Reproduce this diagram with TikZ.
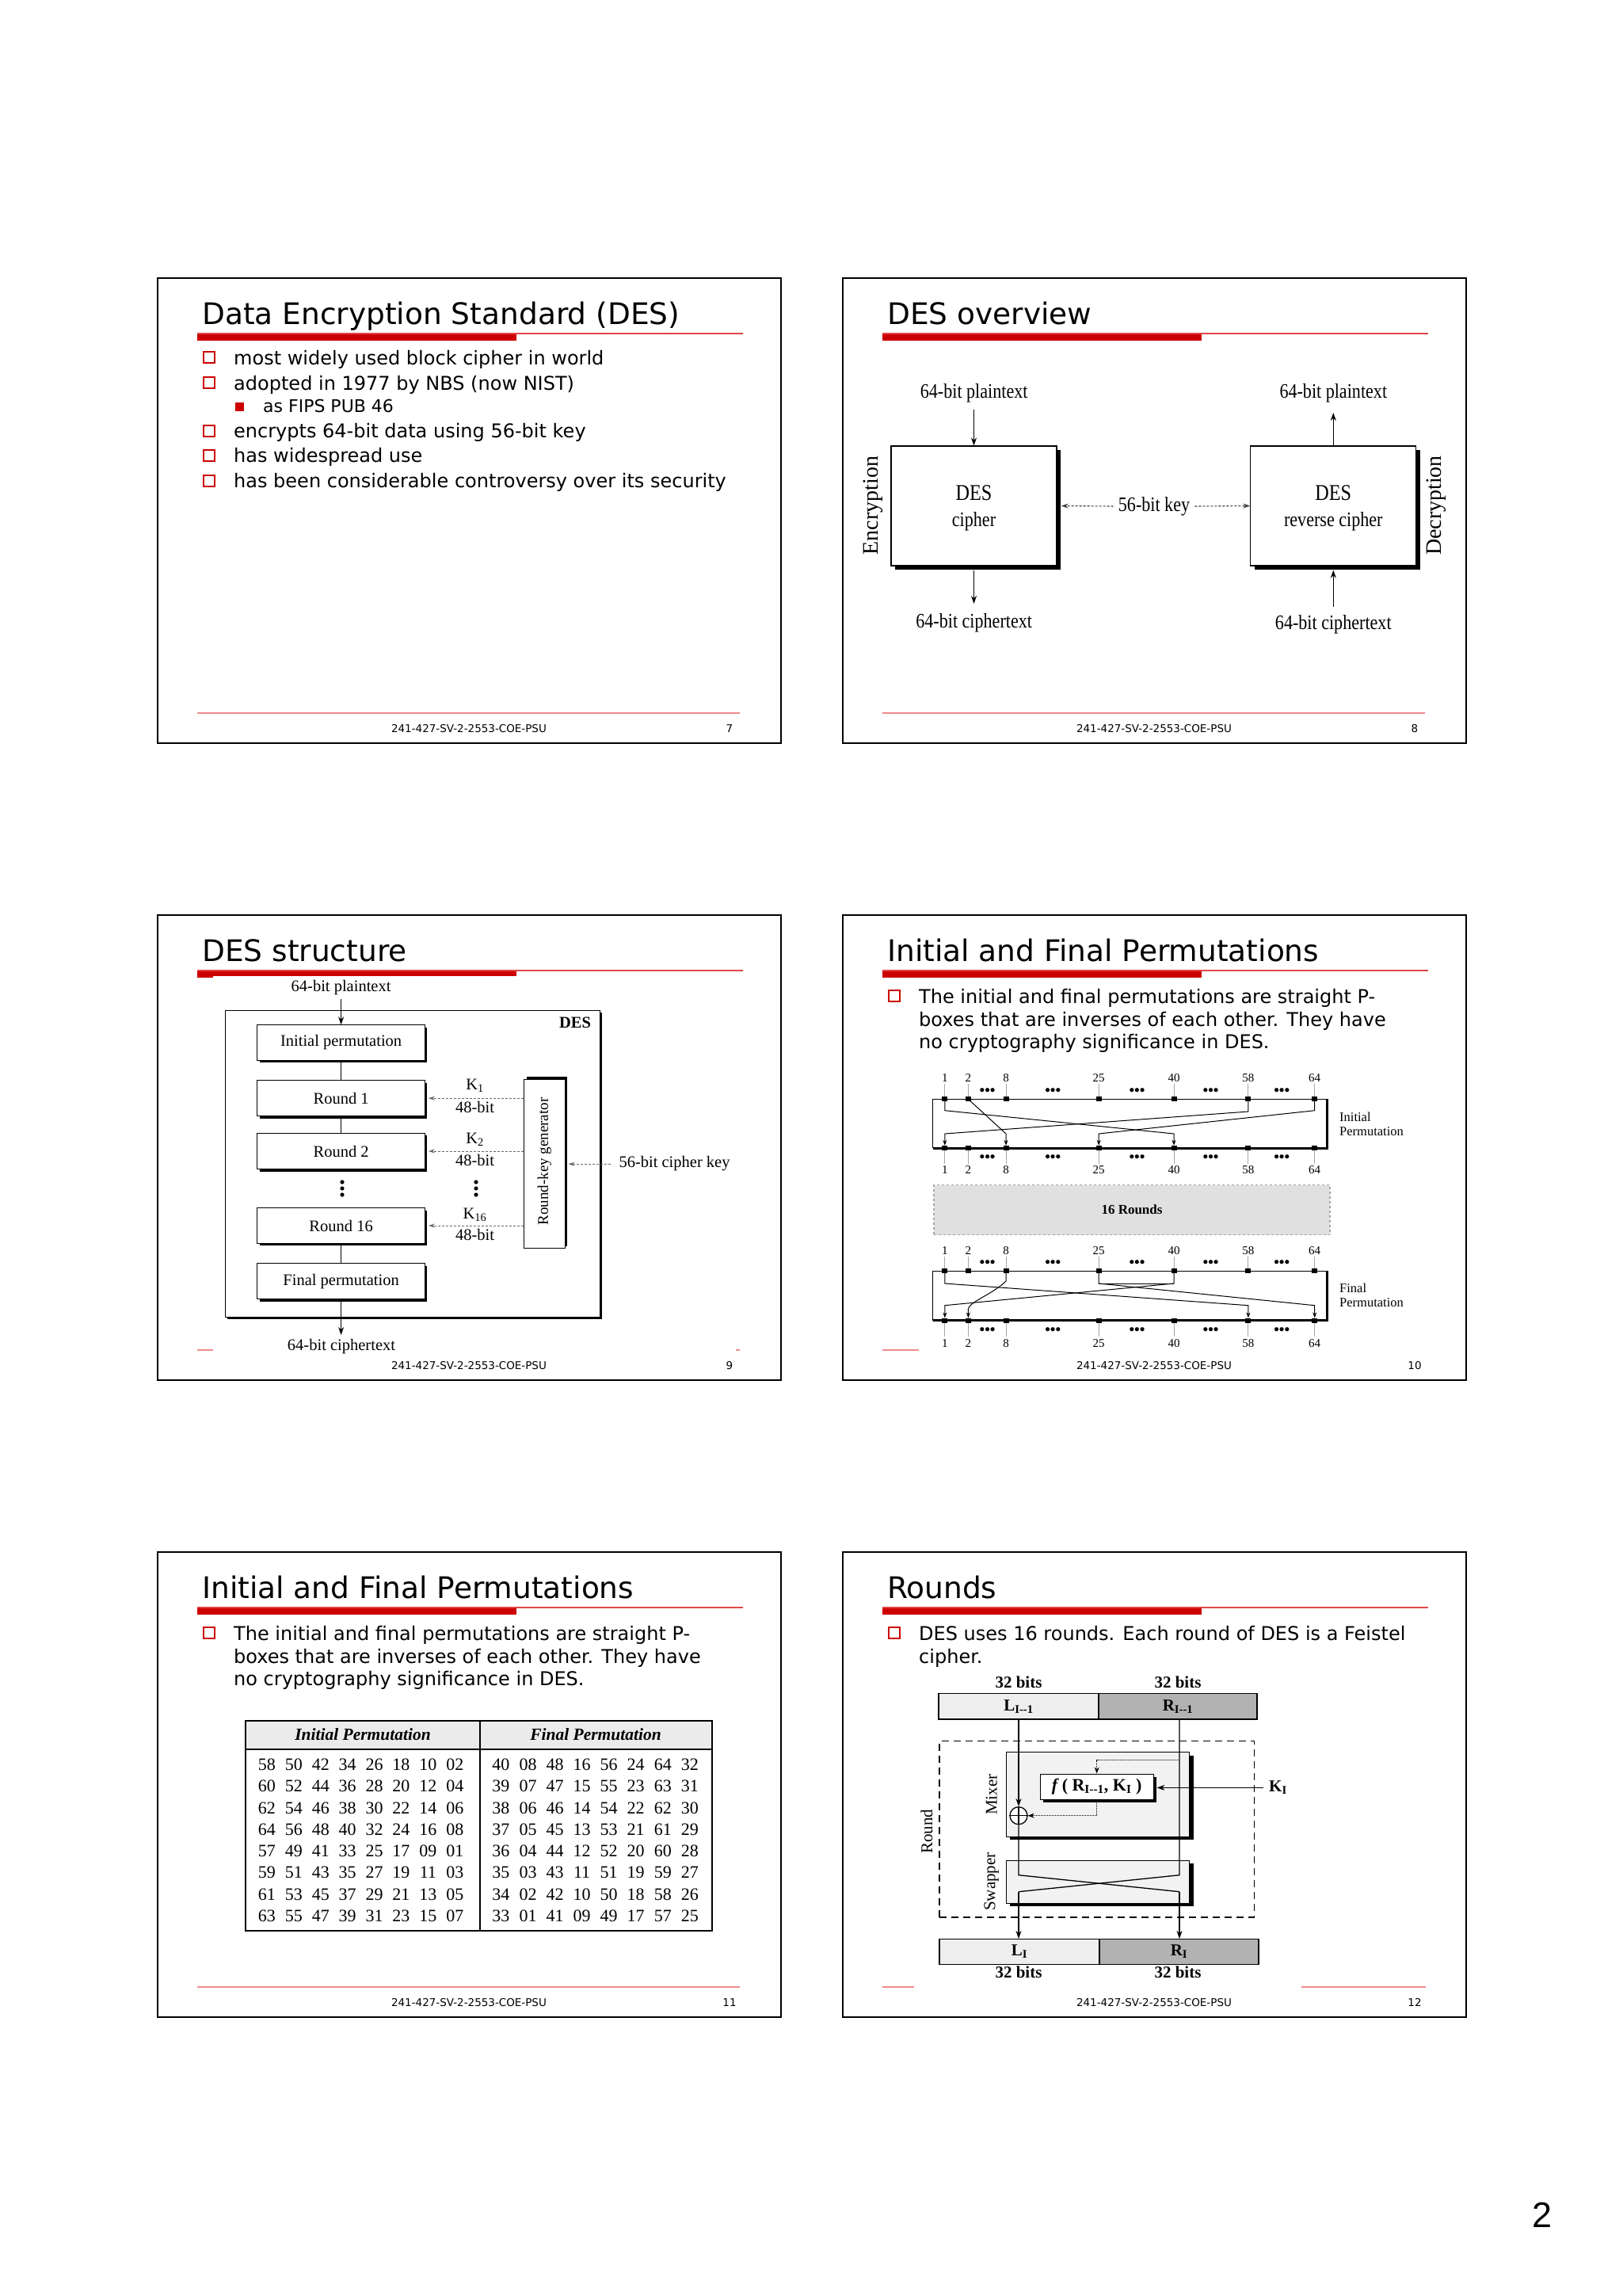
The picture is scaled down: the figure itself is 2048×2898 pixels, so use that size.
\documentclass[tikz,border=0pt]{standalone}
\usepackage{fontspec}
\setmainfont{DejaVu Sans}
\newfontfamily\figf{Liberation Serif}
\newfontfamily\figc{Liberation Serif}[FakeStretch=0.85]
\newfontfamily\pagenumfont{Liberation Sans}
\usetikzlibrary{arrows.meta,shadows}
\newcommand\myfs[1]{\fontsize{#1}{#1}\selectfont}
\definecolor{slred}{RGB}{204,0,0}
\definecolor{thinred}{RGB}{225,70,70}
\definecolor{footred}{RGB}{238,140,140}
\tikzset{
  slideborder/.style={draw=black,line width=2.6},
  titletxt/.style={anchor=base west,inner sep=0,font=\myfs{37.5}},
  foottxt/.style={anchor=base,inner sep=0,font=\myfs{13.5}},
  btxt/.style={anchor=base west,inner sep=0,font=\myfs{24}},
  subtxt/.style={anchor=base west,inner sep=0,font=\myfs{22}},
  bsq/.style={draw=slred,line width=2,minimum size=14,inner sep=0},
  bsqf/.style={fill=slred,minimum size=11,inner sep=0},
  thinline/.style={draw=thinred,line width=1.5},
  footline/.style={draw=footred,line width=1.5},
  arr/.style={-{Stealth[length=10,width=7]},line width=1.3},
  darr/.style={-{Stealth[length=9,width=6]},line width=1.1,densely dashed,black!75},
  karr/.style={-{Stealth[length=8,width=5]},line width=1,densely dashed,black!60},
  shboxb/.style={draw,fill=white,line width=1.2,drop shadow={opacity=1,fill=black,shadow xshift=5pt,shadow yshift=-5pt}},
  s2lab/.style={anchor=base,inner sep=0,font=\figc\myfs{26}},
  s2big/.style={anchor=base,inner sep=0,font=\figc\myfs{28.5}},
  s2side/.style={rotate=90,inner sep=0,font=\figf\myfs{28}},
  s3box/.style={draw,fill=white,line width=1,drop shadow={opacity=1,fill=black,shadow xshift=3pt,shadow yshift=-3pt}},
  s3txt/.style={inner sep=0,font=\figf\myfs{20.5}},
  s3lab/.style={anchor=base,inner sep=0,font=\figf\myfs{20.5}},
  sqmark/.style={fill=black,minimum width=7,minimum height=6,inner sep=0},
  numlab/.style={anchor=base,inner sep=0,font=\figf\myfs{15}},
  dotgrp/.style={inner sep=0,font=\figf\bfseries\myfs{19}},
  wire/.style={line width=1},
  wirearr/.style={line width=1,-{Stealth[length=7,width=5]}},
  s4side/.style={anchor=base west,inner sep=0,font=\figf\myfs{16.5}},
  s5num/.style={anchor=base,inner sep=0,font=\figf\myfs{22}},
  s5head/.style={anchor=base,inner sep=0,font=\figf\bfseries\itshape\myfs{21.5}},
  s6lab/.style={anchor=base,inner sep=0,font=\figf\bfseries\myfs{21}},
  s6light/.style={draw,line width=1.3,fill=gray!13,inner sep=0,font=\figf\bfseries\myfs{21}},
  s6dark/.style={draw,line width=1.3,fill=gray!60,inner sep=0,font=\figf\bfseries\myfs{21}},
  s6box/.style={draw,line width=1,fill=gray!10,drop shadow={opacity=1,fill=black,shadow xshift=5pt,shadow yshift=-4pt}},
  s6fbox/.style={draw,line width=1,fill=white,inner sep=0,font=\figf\bfseries\myfs{22},drop shadow={opacity=1,fill=black,shadow xshift=4pt,shadow yshift=-4pt}},
  s6side/.style={rotate=90,inner sep=0,font=\figf\myfs{21}},
  rounddash/.style={draw,line width=1.5,dash pattern=on 9pt off 6pt},
  dotarr/.style={line width=1,densely dotted,-{Stealth[length=8,width=6]}},
}
\newcommand\slidebase[5]{%
\begin{scope}[shift={(#1,#2)}]
\draw[slideborder] (0,0) rectangle (787,587);
\node[titletxt] (#5title) at (56,58) {#3};
\draw[thinline] (50,70) -- (739,70);
\node[foottxt] (#5foot) at (393,573.5) {241-427-SV-2-2553-COE-PSU};
\node[foottxt] (#5num) at (722,573.5) {#4};
\end{scope}}
\begin{document}
\begin{tikzpicture}[x=1pt,y=-1pt]
\path[use as bounding box,fill=white] (0,0) rectangle (2048,2898);

% ================= Slide 1 =================
\slidebase{199}{351}{Data Encryption Standard (DES)}{7}{sa}
\begin{scope}[shift={(199,351)}]
\fill[slred] (50,70.5) rectangle (453,79);
\draw[footline] (50,549) -- (735,549);
\node[bsq] (s1q1) at (65,100.3) {};
\node[btxt] (s1t1) at (96,109.3) {most widely used block cipher in world};
\node[bsq] (s1q2) at (65,132.4) {};
\node[btxt] (s1t2) at (96,141.4) {adopted in 1977 by NBS (now NIST)};
\node[bsqf] (s1q3) at (103.3,162) {};
\node[subtxt] (s1t3) at (133,169.7) {as FIPS PUB 46};
\node[bsq] (s1q4) at (65,192.8) {};
\node[btxt] (s1t4) at (96,201.8) {encrypts 64-bit data using 56-bit key};
\node[bsq] (s1q5) at (65,223.7) {};
\node[btxt] (s1t5) at (96,232.7) {has widespread use};
\node[bsq] (s1q6) at (65,255.8) {};
\node[btxt] (s1t6) at (96,264.8) {has been considerable controversy over its security};
\end{scope}

% ================= Slide 2 =================
\slidebase{1064}{351}{DES overview}{8}{sb}
\begin{scope}[shift={(1064,351)}]
\fill[slred] (50,70.5) rectangle (453,79);
\draw[footline] (50,549) -- (735,549);
\node[shboxb,minimum width=209,minimum height=151] (s2enc) at (165.5,287.5) {};
\node[shboxb,minimum width=209,minimum height=151] (s2dec) at (619.3,287.5) {};
\node[s2lab] (s2plA) at (165.7,151) {64-bit plaintext};
\node[s2lab] (s2plB) at (619.3,151) {64-bit plaintext};
\node[s2big] (s2d1) at (165.5,280) {DES};
\node[s2lab] (s2c1) at (165.5,313) {cipher};
\node[s2big] (s2d2) at (619.3,280) {DES};
\node[s2lab] (s2c2) at (619.3,313) {reverse cipher};
\node[s2lab] (s2ctA) at (165.7,441.4) {64-bit ciphertext};
\node[s2lab] (s2ctB) at (619.3,443) {64-bit ciphertext};
\node[s2side] (s2enl) at (38,287) {Encryption};
\node[s2side] (s2del) at (749,287) {Decryption};
\node[inner sep=6,font=\figc\myfs{26}] (s2key) at (393,288) {56-bit key};
\coordinate (s2a1) at (165.5,166);
\coordinate (s2a2) at (165.5,411);
\coordinate (s2a3) at (619.3,170);
\coordinate (s2a4) at (619.3,415);
\draw[arr] (s2a1) -- (s2enc.north);
\draw[arr,shorten <=5] (s2enc.south) -- (s2a2);
\draw[arr] (s2dec.north) -- (s2a3);
\draw[arr,shorten >=5] (s2a4) -- (s2dec.south);
\draw[darr,shorten >=5] (s2key.west) -- (s2enc.east);
\draw[darr] (s2key.east) -- (s2dec.west);
\end{scope}

% ================= Slide 3 =================
\slidebase{199}{1155}{DES structure}{9}{sc}
\begin{scope}[shift={(199,1155)}]
\fill[slred] (50,70.5) rectangle (70,79.3);
\fill[slred] (70,70.5) rectangle (453,76.7);
\draw[footline] (50,549) -- (70,549);
\draw[footline] (730,549) -- (735,549);
\node[s3box,minimum width=473,minimum height=387.4] (s3des) at (321.5,313.7) {};
\node[anchor=base,inner sep=0,font=\figf\bfseries\myfs{20.5}] (s3deslab) at (527,142) {DES};
\node[s3box,s3txt,minimum width=211.6,minimum height=44.2] (s3ip) at (231.6,160.9) {Initial permutation};
\node[s3box,s3txt,minimum width=211.6,minimum height=45.2] (s3r1) at (231.6,231.2) {Round 1};
\node[s3box,s3txt,minimum width=211.6,minimum height=45.2] (s3r2) at (231.6,298) {Round 2};
\node[s3box,s3txt,minimum width=211.6,minimum height=44.5] (s3r16) at (231.6,392) {Round 16};
\node[s3box,s3txt,minimum width=211.6,minimum height=45.3] (s3fp) at (231.6,462.2) {Final permutation};
\node[draw,fill=white,line width=1,minimum width=51.4,minimum height=213.2,drop shadow={opacity=1,fill=black,shadow xshift=3pt,shadow yshift=3pt}] (s3rkg) at (488.3,314) {};
\node[s3txt,rotate=90,font=\figf\myfs{19}] (s3rkglab) at (488.3,311) {Round-key generator};
\node[s3lab] (s3pl) at (231.6,96) {64-bit plaintext};
\node[s3lab] (s3ct) at (232,549.7) {64-bit ciphertext};
\coordinate (s3in) at (231.6,105.5);
\coordinate (s3out) at (231.6,530);
\draw[arr,line width=1.2] (s3in) -- (s3ip.north);
\draw[line width=1.2] (s3ip.south) -- (s3r1.north);
\draw[line width=1.2] (s3r1.south) -- (s3r2.north);
\draw[line width=1.2] (s3r16.south) -- (s3fp.north);
\draw[arr,line width=1.2] (s3fp.south) -- (s3out);
\node[s3lab] (s3k1) at (400.5,220.6) {K\textsubscript{1}};
\node[s3lab] (s3b1) at (400.5,249) {48-bit};
\node[s3lab] (s3k2) at (400.5,288.6) {K\textsubscript{2}};
\node[s3lab] (s3b2) at (400.5,316) {48-bit};
\node[s3lab] (s3k16) at (400.5,383) {K\textsubscript{16}};
\node[s3lab] (s3b16) at (400.5,410) {48-bit};
\draw[karr,shorten >=4] (s3rkg.west |- s3r1) -- (s3r1.east);
\draw[karr,shorten >=4] (s3rkg.west |- s3r2) -- (s3r2.east);
\draw[karr,shorten >=4] (s3rkg.west |- s3r16) -- (s3r16.east);
\foreach \yy in {337,345,353} {
  \fill (233,\yy) circle (2.6);
  \fill (402,\yy) circle (2.6);
}
\node[anchor=base west,inner sep=0,font=\figf\myfs{20.5}] (s3ck) at (582.3,318) {56-bit cipher key};
\coordinate (s3kc) at (572,314.2);
\draw[karr,shorten >=4] (s3kc) -- (s3rkg.east |- s3kc);
\end{scope}

% ================= Slide 4 =================
\slidebase{1064}{1155}{Initial and Final Permutations}{10}{sd}
\begin{scope}[shift={(1064,1155)}]
\fill[slred] (50,70.5) rectangle (453,79);
\draw[footline] (50,549) -- (96,549);
\node[bsq] (s4q) at (65,102) {};
\node[btxt] (s4t1) at (96,111) {The initial and final permutations are straight P-};
\node[btxt] (s4t2) at (96,140.6) {boxes that are inverses of each other. They have};
\node[btxt] (s4t3) at (96,168.6) {no cryptography significance in DES.};
% boxes
\draw[line width=1.2] (113.6,294) -- (113.6,232.3) -- (611,232.3);
\draw[line width=3] (113.6,294) -- (611,294) -- (611,232.3);
\draw[line width=1.2] (113.6,511.7) -- (113.6,449.3) -- (611,449.3);
\draw[line width=3] (113.6,511.7) -- (611,511.7) -- (611,449.3);
\foreach \xx/\ll [count=\i] in {128.8/1,158.4/2,206/8,323.2/25,418/40,511.9/58,595.7/64} {
  \draw[gray!70,line width=1] (\xx,213) -- (\xx,232.3);
  \draw[gray!70,line width=1] (\xx,294) -- (\xx,314);
  \draw[gray!70,line width=1] (\xx,431) -- (\xx,449.3);
  \draw[gray!70,line width=1] (\xx,511.7) -- (\xx,532);
  \node[numlab] (s4it\i) at (\xx,210) {\ll};
  \node[numlab] (s4ib\i) at (\xx,326) {\ll};
  \node[numlab] (s4ft\i) at (\xx,428) {\ll};
  \node[numlab] (s4fb\i) at (\xx,545) {\ll};
  \node[sqmark] (ipt\i) at (\xx,232.3) {};
  \node[sqmark] (ipb\i) at (\xx,294) {};
  \node[sqmark] (fpt\i) at (\xx,449.3) {};
  \node[sqmark] (fpb\i) at (\xx,511.7) {};
}
\foreach \xx [count=\j] in {182.6,265.3,371.5,464.6,554.3} {
  \node[dotgrp] (s4da\j) at (\xx,223.3) {•••};
  \node[dotgrp] (s4db\j) at (\xx,307) {•••};
  \node[dotgrp] (s4dc\j) at (\xx,440) {•••};
  \node[dotgrp] (s4dd\j) at (\xx,525) {•••};
}
% initial permutation wires
\draw[wirearr] (ipt1.center) -- (128.8,246.7) -- (418,276) -- (ipb5.north);
\draw[wirearr] (ipt2.center) -- (206,276) -- (ipb3.north);
\draw[wirearr] (ipt6.center) -- (511.9,248) -- (128.8,276) -- (ipb1.north);
\draw[wirearr] (ipt7.center) -- (595.7,246.7) -- (323.2,276) -- (ipb4.north);
% final permutation wires
\draw[wirearr] (fpt1.center) -- (128.8,465) -- (511.9,492.7) -- (fpb6.north);
\draw[wirearr] (fpt3.center) -- (206,462) .. controls (190,478) and (160,488) .. (158.4,497) -- (fpb2.north);
\draw[wirearr] (fpt4.center) -- (323.2,465) -- (595.7,492.7) -- (fpb7.north);
\draw[wirearr] (fpt5.center) -- (418,465) -- (128.8,492.7) -- (fpb1.north);
\draw[wire] (323.2,465) -- (418,465);
\node[draw=gray!70,dashed,line width=1.3,fill=gray!24,minimum width=500,minimum height=63.1,inner sep=0,font=\figf\bfseries\myfs{17}] (s4rounds) at (365,372.15) {16 Rounds};
\node[s4side] (s4il1) at (627,260) {Initial};
\node[s4side] (s4il2) at (627,278) {Permutation};
\node[s4side] (s4fl1) at (627,476.5) {Final};
\node[s4side] (s4fl2) at (627,494) {Permutation};
\end{scope}

% ================= Slide 5 =================
\slidebase{199}{1959}{Initial and Final Permutations}{11}{se}
\begin{scope}[shift={(199,1959)}]
\fill[slred] (50,70.5) rectangle (453,79);
\draw[footline] (50,549) -- (735,549);
\node[bsq] (s5q) at (65,102) {};
\node[btxt] (s5t1) at (96,111) {The initial and final permutations are straight P-};
\node[btxt] (s5t2) at (96,140.6) {boxes that are inverses of each other. They have};
\node[btxt] (s5t3) at (96,168.6) {no cryptography significance in DES.};
\fill[gray!16] (111,213) rectangle (699.5,249);
\draw[line width=2] (111,213) rectangle (699.5,478);
\draw[line width=1.5] (111,249) -- (699.5,249);
\draw[line width=1.8] (407,213) -- (407,478);
\node[s5head] (s5h1) at (259,237.6) {Initial Permutation};
\node[s5head] (s5h2) at (553,237.6) {Final Permutation};
\foreach \row [count=\r] in {{58,50,42,34,26,18,10,02},{60,52,44,36,28,20,12,04},{62,54,46,38,30,22,14,06},{64,56,48,40,32,24,16,08},{57,49,41,33,25,17,09,01},{59,51,43,35,27,19,11,03},{61,53,45,37,29,21,13,05},{63,55,47,39,31,23,15,07}} {
  \foreach \v [count=\c] in \row {
    \node[s5num] (s5l-\r-\c) at ({104.05+33.9*\c},{248.1+27.3*\r}) {\v};
  }
}
\foreach \row [count=\r] in {{40,08,48,16,56,24,64,32},{39,07,47,15,55,23,63,31},{38,06,46,14,54,22,62,30},{37,05,45,13,53,21,61,29},{36,04,44,12,52,20,60,28},{35,03,43,11,51,19,59,27},{34,02,42,10,50,18,58,26},{33,01,41,09,49,17,57,25}} {
  \foreach \v [count=\c] in \row {
    \node[s5num] (s5r-\r-\c) at ({399.4+34.05*\c},{248.1+27.3*\r}) {\v};
  }
}
\end{scope}

% ================= Slide 6 =================
\slidebase{1064}{1959}{Rounds}{12}{sf}
\begin{scope}[shift={(1064,1959)}]
\fill[slred] (50,70.5) rectangle (453,79);
\draw[footline] (50,549) -- (90,549);
\draw[footline] (579,549) -- (736,549);
\node[bsq] (s6q) at (65,102) {};
\node[btxt] (s6t1) at (96,111) {DES uses 16 rounds. Each round of DES is a Feistel};
\node[btxt] (s6t2) at (96,140.6) {cipher.};
\node[s6lab] (s6bitsA) at (222,171) {32 bits};
\node[s6lab] (s6bitsB) at (423,171) {32 bits};
\node[s6light,minimum width=202,minimum height=32.3] (s6Lp) at (222,194.85) {L\textsubscript{I--1}};
\node[s6dark,minimum width=200,minimum height=32.3] (s6Rp) at (423,194.85) {R\textsubscript{I--1}};
\node[rounddash,minimum width=397.3,minimum height=222.3] (s6round) at (320.65,349.85) {};
\node[s6box,minimum width=231.7,minimum height=106.6] (s6mix) at (321.85,306) {};
\node[s6box,minimum width=231.7,minimum height=54] (s6swap) at (321.85,416.3) {};
\node[s6side] (s6roundlab) at (106,352.7) {Round};
\node[s6side] (s6mixlab) at (187.7,306) {Mixer};
\node[s6side] (s6swaplab) at (187.7,416) {Swapper};
\node[s6light,minimum width=202,minimum height=31.6] (s6Lc) at (223,504.5) {L\textsubscript{I}};
\node[s6dark,minimum width=201,minimum height=31.6] (s6Rc) at (424.5,504.5) {R\textsubscript{I}};
\node[s6lab] (s6bitsC) at (222,537.7) {32 bits};
\node[s6lab] (s6bitsD) at (423,537.7) {32 bits};
\coordinate (s6rt) at (425,211);
\coordinate (s6c1) at (222,407.7);
\coordinate (s6c2) at (425,407.7);
\coordinate (s6c3) at (222,428.7);
\coordinate (s6c4) at (425,428.7);
\coordinate (s6d1) at (425,262.7);
\node[draw,circle,fill=white,minimum size=22,inner sep=0,line width=1.3] (s6xor) at (222,332.7) {};
\draw[line width=1.3] (s6xor.north) -- (s6xor.south) (s6xor.west) -- (s6xor.east);
\draw[arr] (s6Lp.south) -- (s6xor.north);
\draw[line width=1.3] (s6xor.south) -- (s6c1) -- (s6c4);
\draw[arr] (s6c4) -- (s6c4 |- s6Rc.north);
\draw[line width=1.3] (s6rt) -- (s6c2) -- (s6c3);
\draw[arr] (s6c3) -- (s6c3 |- s6Lc.north);
\node[s6fbox,minimum width=142.7,minimum height=32] (s6f) at (320.65,296) {\textit{f}\,( R\textsubscript{I--1}, K\textsubscript{I} )};
\draw[dotarr] (s6d1) -- (s6d1 -| s6f.north) -- (s6f.north);
\draw[dotarr] (s6f.south) |- (s6xor.east);
\node[anchor=base west,inner sep=0,font=\figf\bfseries\myfs{21}] (s6K) at (538,302.7) {K\textsubscript{I}};
\draw[arr] ([xshift=-7pt]s6K.west) -- ([xshift=4pt]s6f.east |- s6K.west);
\end{scope}

\node[anchor=base,inner sep=0,font=\pagenumfont\myfs{45}] (pagenum) at (1946.7,2811.7) {2};
\end{tikzpicture}
\end{document}
